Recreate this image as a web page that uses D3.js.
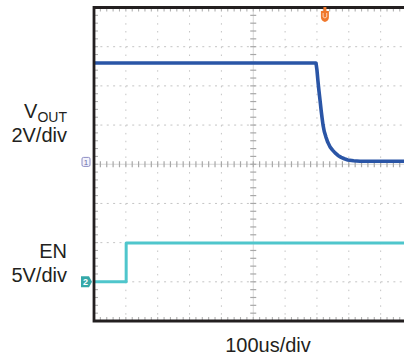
<html>
<head>
<script src="https://d3js.org/d3.v7.min.js"></script>
<style>
  body { margin: 0; background: #fff; }
  svg { display: block; }
  text { font-family: "Liberation Sans", Arial, sans-serif; fill: #231f20; }
</style>
</head>
<body>
<svg id="chart" width="404" height="356"></svg>
<script>
// VOUT trace (time in us, volts)
var voutTime = [0, 697, 700, 703, 706, 710, 713, 716, 719, 723, 728, 734, 741, 749, 757, 766, 776, 786, 797, 815, 835, 900, 1000];
var voutVolt = [5.05, 5.05, 4.69, 4.15, 3.67, 3.1, 2.65, 2.25, 1.89, 1.55, 1.28, 1.0, 0.77, 0.6, 0.46, 0.33, 0.23, 0.16, 0.10, 0.06, 0.03, 0.03, 0.03];

// EN trace
var enTime = [0, 101, 101, 1000];
var enVolt = [0, 0, 4.95, 4.95];

var timeDivs = [0, 100, 200, 300, 400, 500, 600, 700, 800, 900, 1000];
var vertDivs = [0, 1, 2, 3, 4, 5, 6, 7, 8];
var triggerTime = 725;

var labels = ["2V/div", "EN", "5V/div"];
var xLabel = "100us/div";

var svg = d3.select("#chart");
var pLeft = 94, pTop = 7.5, pBottom = 321, divW = 31.85;

var x = d3.scaleLinear().domain([0, 1000]).range([pLeft, pLeft + 10 * divW]);
var yd = d3.scaleLinear().domain([0, 8]).range([pTop, pBottom]);
var y1 = d3.scaleLinear().domain([-8.12, 7.88]).range([pBottom, pTop]);  // ch1 2V/div
var y2 = d3.scaleLinear().domain([-5, 35]).range([pBottom, pTop]);       // ch2 5V/div

svg.append("rect").attr("width", 404).attr("height", 356).attr("fill", "#fff");

var grid = svg.append("g");
var gridCol = "#c4c4c4";

// dotted grid
grid.selectAll(".hg")
  .data(vertDivs.filter(function(d){ return d > 0 && d < 8 && d != 4; }))
  .enter().append("line")
    .attr("x1", pLeft).attr("x2", x(1000))
    .attr("y1", function(d){ return yd(d); })
    .attr("y2", function(d){ return yd(d); })
    .attr("stroke", gridCol).attr("stroke-width", 1)
    .attr("stroke-dasharray", "2," + (divW / 5 - 2));

grid.selectAll(".vg")
  .data(timeDivs.filter(function(d){ return d > 0 && d < 1000 && d != 500; }))
  .enter().append("line")
    .attr("x1", function(d){ return x(d); })
    .attr("x2", function(d){ return x(d); })
    .attr("y1", pTop).attr("y2", pBottom)
    .attr("stroke", gridCol).attr("stroke-width", 1)
    .attr("stroke-dasharray", "1.5," + ((pBottom - pTop) / 40 - 1.5));

// center cross with minor ticks
var minorX = d3.range(0, 1001, 20);
var minorY = d3.range(0, 8.01, 0.2);

grid.append("line")
  .attr("x1", pLeft).attr("x2", x(1000))
  .attr("y1", yd(4)).attr("y2", yd(4))
  .attr("stroke", "#d8d8d8").attr("stroke-width", 1);
grid.append("line")
  .attr("x1", x(500)).attr("x2", x(500))
  .attr("y1", pTop).attr("y2", pBottom)
  .attr("stroke", "#d8d8d8").attr("stroke-width", 1);

grid.selectAll(".cxt").data(minorX).enter().append("line")
  .attr("x1", function(d){ return x(d); }).attr("x2", function(d){ return x(d); })
  .attr("y1", yd(4) - 3).attr("y2", yd(4) + 3)
  .attr("stroke", "#a8a8a8").attr("stroke-width", 1.2);
grid.selectAll(".cyt").data(minorY).enter().append("line")
  .attr("x1", x(500) - 3).attr("x2", x(500) + 3)
  .attr("y1", function(d){ return yd(d); }).attr("y2", function(d){ return yd(d); })
  .attr("stroke", "#a8a8a8").attr("stroke-width", 1.2);

// ticks along the frame
grid.selectAll(".tt").data(minorX).enter().append("line")
  .attr("x1", function(d){ return x(d); }).attr("x2", function(d){ return x(d); })
  .attr("y1", pTop).attr("y2", pTop + 4)
  .attr("stroke", "#b0b0b0").attr("stroke-width", 1.1);
grid.selectAll(".bt").data(minorX).enter().append("line")
  .attr("x1", function(d){ return x(d); }).attr("x2", function(d){ return x(d); })
  .attr("y1", pBottom - 4).attr("y2", pBottom)
  .attr("stroke", "#b0b0b0").attr("stroke-width", 1.1);
grid.selectAll(".lt").data(minorY).enter().append("line")
  .attr("x1", pLeft).attr("x2", pLeft + 4)
  .attr("y1", function(d){ return yd(d); }).attr("y2", function(d){ return yd(d); })
  .attr("stroke", "#b0b0b0").attr("stroke-width", 1.1);

// traces
var line1 = d3.line()
  .x(function(d, i){ return x(voutTime[i]); })
  .y(function(d){ return y1(d); });
var line2 = d3.line()
  .x(function(d, i){ return x(enTime[i]); })
  .y(function(d){ return y2(d); });

svg.append("path").datum(voutVolt)
  .attr("d", line1).attr("fill", "none")
  .attr("stroke", "#2a55a6").attr("stroke-width", 3.6)
  .attr("stroke-linejoin", "round");
svg.append("path").datum(enVolt)
  .attr("d", line2).attr("fill", "none")
  .attr("stroke", "#4fc6cc").attr("stroke-width", 3)
  .attr("stroke-linejoin", "round");

// frame (left, top, bottom)
svg.append("path")
  .attr("d", "M" + x(1000) + "," + pTop + "H" + pLeft + "V" + pBottom + "H" + x(1000))
  .attr("fill", "none").attr("stroke", "#231f20").attr("stroke-width", 2.8);

// channel markers
var m1 = svg.append("g").attr("transform", "translate(" + (pLeft - 12) + "," + (y1(0) - 4.5) + ")");
m1.append("rect").attr("width", 8).attr("height", 9).attr("rx", 1.5)
  .attr("fill", "#f3f3fb").attr("stroke", "#8c8cc4").attr("stroke-width", 1);
m1.append("text").attr("x", 4).attr("y", 7.5).attr("text-anchor", "middle")
  .style("font-size", "8px").style("fill", "#6a6aa8").text("1");

var m2 = svg.append("g").attr("transform", "translate(" + (pLeft - 13) + "," + (y2(0) - 5.5) + ")");
m2.append("path").attr("d", "M0,0H8L11,5.5L8,11H0Z").attr("fill", "#35a8a8");
m2.append("text").attr("x", 4.5).attr("y", 9).attr("text-anchor", "middle")
  .style("font-size", "9px").style("font-weight", "bold").style("fill", "#fff").text("2");

// trigger marker
var tg = svg.append("g").attr("transform", "translate(" + x(triggerTime) + ",0)");
tg.append("rect").attr("x", -1.5).attr("y", 7).attr("width", 3).attr("height", 4).attr("fill", "#f0782d");
tg.append("path").attr("d", "M-4,11H4V17Q4,21 0,22Q-4,21 -4,17Z").attr("fill", "#f0782d");
tg.append("path").attr("d", "M-1.8,13V17Q0,19 1.8,17V13").attr("fill", "none")
  .attr("stroke", "#fbd2b8").attr("stroke-width", 1);

// labels
var vlab = svg.append("text").attr("x", 67).attr("y", 118).attr("text-anchor", "end");
vlab.append("tspan").style("font-size", "20px").text("V");
vlab.append("tspan").style("font-size", "14px").attr("dy", 4).text("OUT");

svg.append("text").attr("x", 67).attr("y", 141.5).attr("text-anchor", "end")
  .style("font-size", "20px").text(labels[0]);
svg.append("text").attr("x", 67).attr("y", 257.5).attr("text-anchor", "end")
  .style("font-size", "20px").text(labels[1]);
svg.append("text").attr("x", 67).attr("y", 281.5).attr("text-anchor", "end")
  .style("font-size", "20px").text(labels[2]);

svg.append("text").attr("x", 268).attr("y", 352).attr("text-anchor", "middle")
  .style("font-size", "20px").text(xLabel);
</script>
</body>
</html>
